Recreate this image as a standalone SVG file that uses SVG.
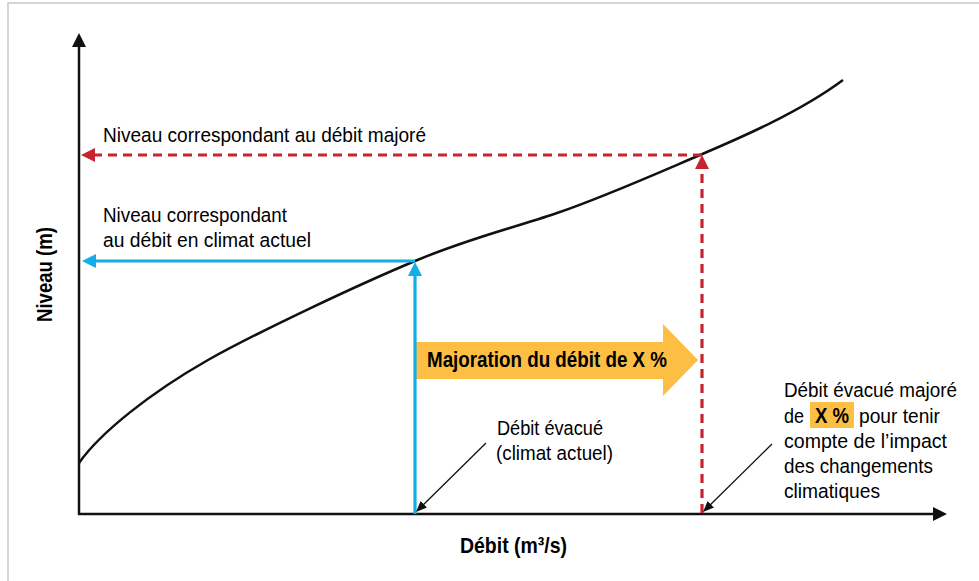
<svg xmlns="http://www.w3.org/2000/svg" width="979" height="581" viewBox="0 0 979 581">
<style>
.t{font-family:"Liberation Sans",Arial,sans-serif;font-size:20.5px;fill:#000}
.b{font-family:"Liberation Sans",Arial,sans-serif;font-size:22px;font-weight:bold;fill:#000}
.ax{stroke:#111;stroke-width:2.5;fill:none}
.blue{stroke:#13aee6;stroke-width:3.2;fill:none}
.red{stroke:#c8242f;stroke-width:3.2;fill:none;stroke-dasharray:9 6}
.lead{stroke:#111;stroke-width:1.3;fill:none}
</style>
<defs>
<marker id="mk" viewBox="0 0 14 14" refX="1" refY="7" markerWidth="14" markerHeight="14" markerUnits="userSpaceOnUse" orient="auto"><path d="M0,0 L14,7 L0,14 z" fill="#111"/></marker>
<marker id="mb" viewBox="0 0 14 14" refX="1" refY="7" markerWidth="14" markerHeight="14" markerUnits="userSpaceOnUse" orient="auto"><path d="M0,0 L14,7 L0,14 z" fill="#13aee6"/></marker>
<marker id="mr" viewBox="0 0 14 14" refX="1" refY="7" markerWidth="14" markerHeight="14" markerUnits="userSpaceOnUse" orient="auto"><path d="M0,0 L14,7 L0,14 z" fill="#c8242f"/></marker>
<marker id="ml" viewBox="0 0 11 9" refX="1" refY="4.5" markerWidth="11" markerHeight="9" markerUnits="userSpaceOnUse" orient="auto"><path d="M0,0 L11,4.5 L0,9 z" fill="#111"/></marker>
</defs>
<rect x="8" y="3" width="1000" height="620" fill="#fff" stroke="#c8c8c8" stroke-width="1.5"/>
<g id="axes">
<line class="ax" x1="79" y1="515" x2="79" y2="46" marker-end="url(#mk)"/>
<line class="ax" x1="78" y1="514" x2="934" y2="514" marker-end="url(#mk)"/>
</g>
<g id="curve">
<path class="ax" stroke-width="3" d="M79,463 C100,433 150,393 208,360 C260,331 355,286.2 415,261 C470,237.9 510,229 557,213 C604,197 660,172 700,155 C740,138 800,112 843,80"/>
</g>
<g id="majoration">
<polygon points="416,342 663,342 663,324 698,360 663,396 663,379 416,379" fill="#fcbf43"/>
<text class="b" x="427" y="367" textLength="240" lengthAdjust="spacingAndGlyphs">Majoration du débit de X %</text>
</g>
<g id="connectors">
<line class="blue" x1="415" y1="261" x2="95" y2="261" marker-end="url(#mb)"/>
<line class="blue" x1="415" y1="514" x2="415" y2="275" marker-end="url(#mb)"/>
<line class="red" x1="702" y1="155" x2="94" y2="155" marker-end="url(#mr)"/>
<line class="red" x1="702" y1="513" x2="702" y2="168" marker-end="url(#mr)"/>
<line class="lead" x1="486" y1="443" x2="423.1" y2="505" marker-end="url(#ml)"/>
<line class="lead" x1="772" y1="444" x2="710.1" y2="505" marker-end="url(#ml)"/>
</g>
<g id="label-majore">
<text class="t" x="103" y="142" textLength="323" lengthAdjust="spacingAndGlyphs">Niveau correspondant au débit majoré</text>
</g>
<g id="label-actuel">
<text class="t" x="103" y="222" textLength="184" lengthAdjust="spacingAndGlyphs">Niveau correspondant</text>
<text class="t" x="103" y="247" textLength="208" lengthAdjust="spacingAndGlyphs">au débit en climat actuel</text>
</g>
<g id="label-debit-evacue">
<text class="t" x="497" y="435" textLength="106" lengthAdjust="spacingAndGlyphs">Débit évacué</text>
<text class="t" x="496" y="460" textLength="117" lengthAdjust="spacingAndGlyphs">(climat actuel)</text>
</g>
<g id="label-debit-majore">
<rect x="810" y="402" width="44" height="26" fill="#fcbf43"/>
<text class="t" x="784" y="397" textLength="173" lengthAdjust="spacingAndGlyphs">Débit évacué majoré</text>
<text class="t" x="784" y="423" textLength="20" lengthAdjust="spacingAndGlyphs">de</text>
<text class="b" x="815" y="423" textLength="34" lengthAdjust="spacingAndGlyphs">X %</text>
<text class="t" x="859" y="423" textLength="81" lengthAdjust="spacingAndGlyphs">pour tenir</text>
<text class="t" x="784" y="448" textLength="163" lengthAdjust="spacingAndGlyphs">compte de l’impact</text>
<text class="t" x="784" y="473" textLength="149" lengthAdjust="spacingAndGlyphs">des changements</text>
<text class="t" x="784" y="498" textLength="96" lengthAdjust="spacingAndGlyphs">climatiques</text>
</g>
<g id="axis-labels">
<text class="b" x="460" y="553" textLength="107" lengthAdjust="spacingAndGlyphs">Débit (m³/s)</text>
<text class="b" transform="translate(52,274.5) rotate(-90)" text-anchor="middle" textLength="95" lengthAdjust="spacingAndGlyphs">Niveau (m)</text>
</g>
</svg>
